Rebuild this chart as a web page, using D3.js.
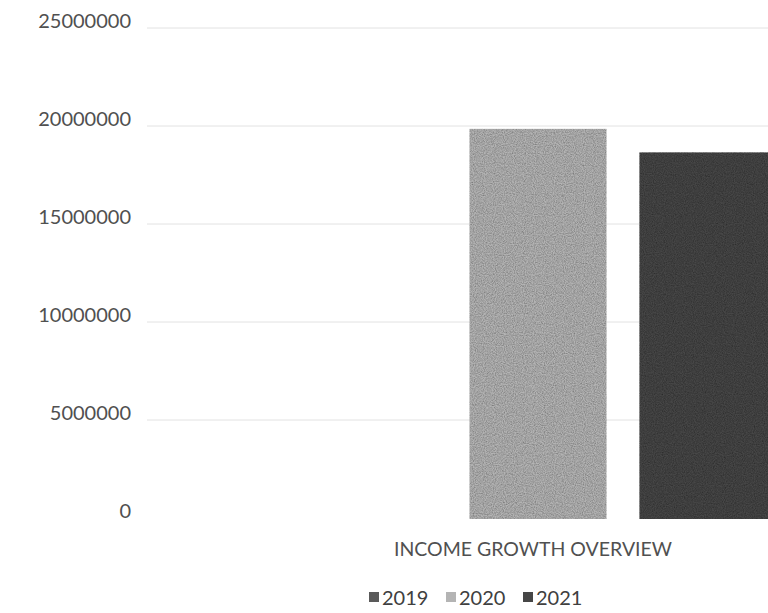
<!DOCTYPE html>
<html><head><meta charset="utf-8">
<script src="https://cdn.jsdelivr.net/npm/d3@7"></script>
<style>html,body{margin:0;padding:0;background:#fff;overflow:hidden}</style>
</head><body>
<svg id="chart" width="768" height="613"></svg>
<script>
const categories = ["INCOME GROWTH OVERVIEW"];
const seriesNames = ["2019", "2020", "2021"];
const values2019 = [0];
const values2020 = [19700000];
const values2021 = [18500000];
const yTicks = [0, 5000000, 10000000, 15000000, 20000000, 25000000];
const seriesColors = ["#5a5a5a", "#b4b4b4", "#464646"];

const seriesValues = [values2019, values2020, values2021];
const svg = d3.select("#chart");
const font = "Lato, 'Open Sans', sans-serif";

const defs = svg.append("defs");
const f = defs.append("filter").attr("id", "grain").attr("x", 0).attr("y", 0).attr("width", 1).attr("height", 1);
f.append("feTurbulence").attr("type", "fractalNoise").attr("baseFrequency", 0.9).attr("numOctaves", 2).attr("seed", 3).attr("result", "noise");
f.append("feColorMatrix").attr("in", "noise").attr("type", "matrix")
  .attr("values", "0 0 0 0 0  0 0 0 0 0  0 0 0 0 0  0 0 0 0.9 -0.25").attr("result", "dark");
f.append("feComposite").attr("in", "dark").attr("in2", "SourceGraphic").attr("operator", "in").attr("result", "darkIn");
f.append("feMerge").selectAll("feMergeNode").data(["SourceGraphic", "darkIn"]).join("feMergeNode").attr("in", d => d);

const plotLeft = 147, plotRight = 929, plotTop = 25, plotBottom = 515;
const x0 = d3.scaleBand().domain(categories).range([plotLeft, plotRight]).paddingOuter(0.32).paddingInner(0);
const x1 = d3.scaleBand().domain(seriesNames).range([0, x0.bandwidth()]).paddingInner(0.194).paddingOuter(0);
const y = d3.scaleLinear().domain([0, 25000000]).range([plotBottom, plotTop]);

// gridlines
svg.append("g").selectAll("line").data(yTicks.filter(d => d > 0)).join("line")
  .attr("x1", plotLeft).attr("x2", 768)
  .attr("y1", d => y(d) + 3).attr("y2", d => y(d) + 3)
  .attr("stroke", "#e2e2e2").attr("stroke-width", 1);

// y axis labels
const yAxis = d3.axisLeft(y).tickValues(yTicks).tickSize(0).tickPadding(0).tickFormat(d3.format("d"));
const ya = svg.append("g").attr("transform", `translate(131,-4)`).call(yAxis);
ya.select(".domain").remove();
ya.selectAll("text").attr("font-family", font).attr("font-size", 20).attr("fill", "#505050");

// bars
const data = [];
categories.forEach((c, ci) => seriesNames.forEach((s, si) => data.push({c, s, v: seriesValues[si][ci], color: seriesColors[si]})));
svg.append("g").selectAll("rect").data(data.filter(d => d.v > 0)).join("rect")
  .attr("x", d => x0(d.c) + x1(d.s))
  .attr("width", x1.bandwidth())
  .attr("y", d => y(d.v))
  .attr("height", d => y(0) - y(d.v) + 4)
  .attr("fill", d => d.color)
  .attr("filter", "url(#grain)");

// category label
svg.append("text").attr("x", x0(categories[0]) + x0.bandwidth() / 2 - 5).attr("y", 556)
  .attr("text-anchor", "middle").attr("font-family", font).attr("font-size", 19.5)
  .attr("fill", "#505050").text(categories[0]);

// legend
const legendX = [369, 446, 523];
const lg = svg.append("g").selectAll("g").data(seriesNames).join("g")
  .attr("transform", (d, i) => `translate(${legendX[i]},598)`);
lg.append("rect").attr("x", 0).attr("y", -6).attr("width", 10).attr("height", 10)
  .attr("fill", (d, i) => seriesColors[i]);
lg.append("text").attr("x", 13).attr("y", 0).attr("dy", "0.35em")
  .attr("font-family", font).attr("font-size", 20).attr("fill", "#404040").text(d => d);
</script>
</body></html>
